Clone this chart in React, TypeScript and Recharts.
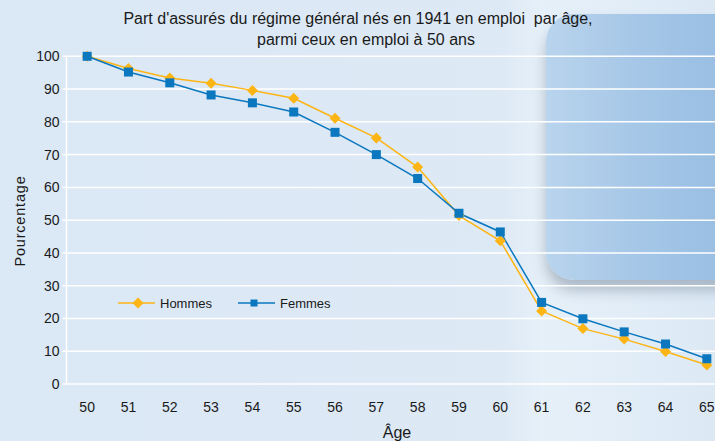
import React from 'react';
import { LineChart, Line, XAxis, YAxis, CartesianGrid } from 'recharts';

const ages = [50, 51, 52, 53, 54, 55, 56, 57, 58, 59, 60, 61, 62, 63, 64, 65];
const hommes = [100, 96.3, 93.4, 91.8, 89.6, 87.2, 81.1, 75.1, 66.2, 51.4, 43.7, 22.3, 16.9, 13.7, 9.9, 5.8];
const femmes = [100, 95.2, 91.9, 88.2, 85.8, 83.0, 76.8, 70.0, 62.7, 52.1, 46.4, 24.9, 19.9, 15.9, 12.2, 7.7];
const yTicks = [0, 10, 20, 30, 40, 50, 60, 70, 80, 90, 100];

const YELLOW = '#FDB515';
const BLUE = '#0A77BF';
const FONT = '"Liberation Sans", Arial, sans-serif';

const data = ages.map((a, i) => ({ age: a, hommes: hommes[i], femmes: femmes[i] }));
// tick marks sit between categories
const boundaries = [...ages.map(a => a - 0.5), ages[ages.length - 1] + 0.5];

const Diamond = (props: any) => {
    const { cx, cy } = props;
    if (cx == null || cy == null) return null;
    const r = 5.5;
    return <polygon points={`${cx},${cy - r} ${cx + r},${cy} ${cx},${cy + r} ${cx - r},${cy}`} fill={YELLOW} />;
};

const Square = (props: any) => {
    const { cx, cy } = props;
    if (cx == null || cy == null) return null;
    return <rect x={cx - 4.5} y={cy - 4.5} width={9} height={9} fill={BLUE} />;
};

const LegendBox = () => (
    <svg width={240} height={20} style={{ position: 'absolute', left: 118, top: 293, overflow: 'visible' }}>
        <line x1={0} y1={10} x2={37} y2={10} stroke={YELLOW} strokeWidth={1.5} />
        <polygon points="20,4.5 25.5,10 20,15.5 14.5,10" fill={YELLOW} />
        <text x={42} y={14.5} fontSize={13} fill="#1a1a1a" fontFamily={FONT}>Hommes</text>
        <line x1={120} y1={10} x2={157} y2={10} stroke={BLUE} strokeWidth={1.5} />
        <rect x={132.5} y={6.5} width={7} height={7} fill={BLUE} />
        <text x={162} y={14.5} fontSize={13} fill="#1a1a1a" fontFamily={FONT}>Femmes</text>
    </svg>
);

const tickStyle = { fontSize: 14, fill: '#1a1a1a', fontFamily: FONT };

export default function App() {
    return (
        <div style={{ position: 'absolute', left: 0, top: 0, width: 715, height: 441, overflow: 'hidden', background: 'linear-gradient(90deg, #dbe8f5 0%, #dde9f5 70%, #e6f0f9 76%, #dce9f5 100%)', fontFamily: FONT }}>
            <div style={{
                position: 'absolute', left: 546, top: 14, width: 220, height: 266, borderRadius: 28,
                background: 'linear-gradient(90deg, #b9d4ed 0%, #a6c7e7 40%, #92bae1 100%)',
                boxShadow: '0 10px 14px rgba(70, 85, 105, 0.35)'
            }} />
            <div style={{ position: 'absolute', left: 0, top: 10, width: 716, textAlign: 'center', fontSize: 16, color: '#1a1a1a', whiteSpace: 'pre' }}>
                {"Part d'assurés du régime général nés en 1941 en emploi  par âge,"}
            </div>
            <div style={{ position: 'absolute', left: 0, top: 31, width: 732, textAlign: 'center', fontSize: 16, color: '#1a1a1a' }}>
                parmi ceux en emploi à 50 ans
            </div>
            <div style={{ position: 'absolute', left: 20, top: 221, transform: 'translate(-50%, -50%) rotate(-90deg)', fontSize: 14.5, letterSpacing: 0.8, color: '#1a1a1a', whiteSpace: 'nowrap' }}>
                Pourcentage
            </div>
            <div style={{ position: 'absolute', left: 397, top: 433, transform: 'translate(-50%, -50%)', fontSize: 16, color: '#1a1a1a' }}>
                Âge
            </div>
            <LineChart width={740} height={441} data={data} margin={{ top: 56.3, right: 12.5, left: 0, bottom: 0 }} style={{ position: 'absolute', left: 0, top: 0 }}>
                <CartesianGrid xAxisId="lab" horizontal vertical={false} stroke="#ffffff" strokeWidth={1.5} />
                <XAxis xAxisId="marks" type="number" dataKey="age" domain={[49.5, 65.5]} ticks={boundaries} height={0}
                    tick={false} tickSize={5} tickLine={{ stroke: '#ffffff', strokeWidth: 1.5 }} axisLine={{ stroke: '#ffffff', strokeWidth: 1.5 }} />
                <XAxis xAxisId="lab" type="number" dataKey="age" domain={[49.5, 65.5]} ticks={ages} height={57}
                    tickSize={0} tickMargin={18} tickLine={false} axisLine={false} tick={tickStyle} interval={0} />
                <YAxis type="number" domain={[0, 100]} ticks={yTicks} width={66.5} tickSize={4} tickMargin={3}
                    tick={tickStyle} tickLine={{ stroke: '#ffffff', strokeWidth: 1.5 }} axisLine={{ stroke: '#ffffff', strokeWidth: 1.5 }} interval={0} />
                <Line xAxisId="lab" type="linear" dataKey="hommes" name="Hommes" stroke={YELLOW} strokeWidth={1.5} dot={<Diamond />} activeDot={false} isAnimationActive={false} />
                <Line xAxisId="lab" type="linear" dataKey="femmes" name="Femmes" stroke={BLUE} strokeWidth={1.5} dot={<Square />} activeDot={false} isAnimationActive={false} />
            </LineChart>
            <LegendBox />
        </div>
    );
}
